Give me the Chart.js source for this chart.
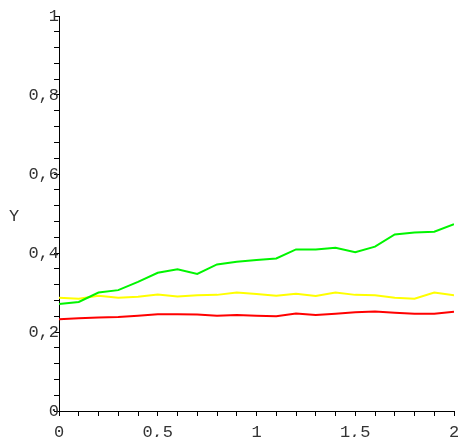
<!DOCTYPE html>
<html>
<head>
<meta charset="utf-8">
<script src="https://cdn.jsdelivr.net/npm/chart.js@4/dist/chart.umd.min.js"></script>
<style>
  html, body { margin: 0; padding: 0; background: #fff; }
  #wrap { width: 460px; height: 437px; }
</style>
</head>
<body>
<div id="wrap"><canvas id="c" width="460" height="437"></canvas></div>
<script>
// x positions of the samples
const xValues = [0, 0.1, 0.2, 0.3, 0.4, 0.5, 0.6, 0.7, 0.8, 0.9, 1.0,
                 1.1, 1.2, 1.3, 1.4, 1.5, 1.6, 1.7, 1.8, 1.9, 2.0];

// three sampled curves
const greenSeries  = [0.271, 0.276, 0.300, 0.306, 0.327, 0.350, 0.359, 0.347, 0.371, 0.378, 0.382,
                      0.386, 0.409, 0.409, 0.413, 0.402, 0.416, 0.447, 0.452, 0.454, 0.473];
const yellowSeries = [0.287, 0.284, 0.292, 0.287, 0.289, 0.295, 0.290, 0.293, 0.294, 0.300, 0.296,
                      0.292, 0.297, 0.291, 0.300, 0.294, 0.293, 0.287, 0.284, 0.300, 0.293];
const redSeries    = [0.232, 0.235, 0.237, 0.238, 0.241, 0.245, 0.245, 0.244, 0.241, 0.243, 0.241,
                      0.240, 0.247, 0.243, 0.246, 0.250, 0.252, 0.249, 0.246, 0.246, 0.251];

// labelled tick values (the minor ticks stay unlabelled)
const xTickLabels = [0, 0.5, 1, 1.5, 2];
const yTickLabels = [0, 0.2, 0.4, 0.6, 0.8, 1];
const yAxisTitle = 'Y';

const FONT = '"Liberation Mono", "DejaVu Sans Mono", monospace';

function pts(ys) { return xValues.map((x, i) => ({ x: x, y: ys[i] })); }
function isLabelled(v, list) { return list.some(t => Math.abs(t - v) < 1e-6); }
function fmt(v) { return String(Math.round(v * 100) / 100).replace('.', ','); }

const yTitlePlugin = {
  id: 'yTitle',
  afterDraw(chart) {
    const ctx = chart.ctx;
    const ys = chart.scales.y;
    ctx.save();
    ctx.font = '17px ' + FONT;
    ctx.fillStyle = '#333';
    ctx.textAlign = 'center';
    ctx.textBaseline = 'middle';
    ctx.fillText(yAxisTitle, 14, ys.getPixelForValue(0.5) + 3);
    ctx.restore();
  }
};

new Chart(document.getElementById('c'), {
  type: 'line',
  data: {
    datasets: [
      { data: pts(greenSeries),  borderColor: '#00f500', borderWidth: 2, pointRadius: 0, fill: false, tension: 0 },
      { data: pts(yellowSeries), borderColor: '#ffff00', borderWidth: 2, pointRadius: 0, fill: false, tension: 0 },
      { data: pts(redSeries),    borderColor: '#ff0000', borderWidth: 2, pointRadius: 0, fill: false, tension: 0 }
    ]
  },
  options: {
    responsive: false,
    animation: false,
    events: [],
    layout: { padding: { top: 16, right: 6, bottom: 0, left: 0 } },
    plugins: { legend: { display: false }, tooltip: { enabled: false } },
    scales: {
      x: {
        type: 'linear', min: 0, max: 2,
        afterFit(s) { s.height = 26; s.paddingLeft = 0; s.paddingRight = 0; },
        border: { display: true, color: '#000', width: 1 },
        grid: { drawOnChartArea: false, drawTicks: true, tickLength: 5, color: '#000', lineWidth: 1 },
        ticks: {
          stepSize: 0.1, autoSkip: false, maxRotation: 0, padding: 6,
          color: '#333', font: { family: FONT, size: 17 },
          callback: v => isLabelled(v, xTickLabels) ? fmt(v) : ''
        }
      },
      y: {
        type: 'linear', min: 0, max: 1,
        afterFit(s) { s.width = 59; s.paddingTop = 0; s.paddingBottom = 0; },
        border: { display: true, color: '#000', width: 1 },
        grid: { drawOnChartArea: false, drawTicks: true, tickLength: 5, color: '#000', lineWidth: 1 },
        ticks: {
          stepSize: 0.04, autoSkip: false, padding: -5,
          color: '#333', font: { family: FONT, size: 17 },
          callback: v => isLabelled(v, yTickLabels) ? fmt(v) : ''
        }
      }
    }
  },
  plugins: [yTitlePlugin]
});
</script>
</body>
</html>
